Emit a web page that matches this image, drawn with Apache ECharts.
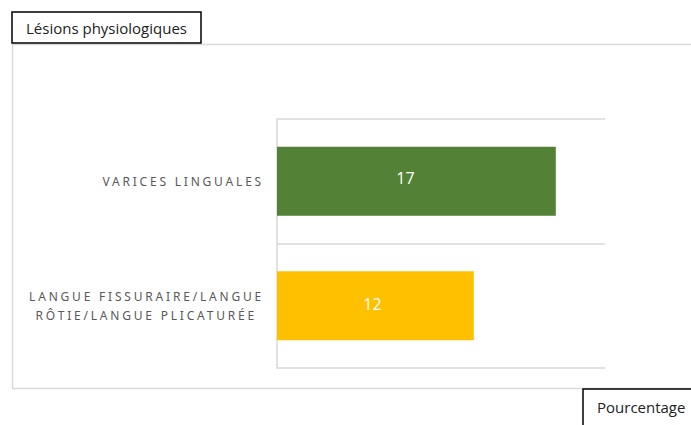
<!DOCTYPE html>
<html>
<head>
<meta charset="utf-8">
<script src="https://cdn.jsdelivr.net/npm/echarts@6/dist/echarts.min.js"></script>
<style>
  html, body { margin: 0; padding: 0; background: #fff; }
  #chart { width: 691px; height: 425px; }
  /* spaced capitals for the category labels */
  #chart svg text[style*="Noto Sans"] { letter-spacing: 2.8px; }
</style>
</head>
<body>
<div id="chart"></div>
<script>
// Lésions physiologiques (%)
const categories = ['VARICES LINGUALES', 'LANGUE FISSURAIRE/LANGUE\nRÔTIE/LANGUE PLICATURÉE'];
const values = [17, 12];
const barColors = ['#538135', '#FFC000'];
const chartTitle = 'Lésions physiologiques';
const axisTitle = 'Pourcentage';

const chart = echarts.init(document.getElementById('chart'), null, { renderer: 'svg' });

const lineGrey = '#d9d9d9';
const boxFont = "'Open Sans', sans-serif";
const labelNudge = [[-11, -3], [-3, -2]];

chart.setOption({
  animation: false,
  backgroundColor: '#fff',
  graphic: [
    {
      type: 'rect',
      z: 0,
      shape: { x: 12.5, y: 44.5, width: 700, height: 344 },
      style: { fill: 'none', stroke: lineGrey, lineWidth: 1.5 }
    }
  ],
  title: [
    {
      text: chartTitle,
      left: 12,
      top: 12,
      padding: [8, 14, 8, 14],
      borderColor: '#000',
      borderWidth: 1.5,
      backgroundColor: '#fff',
      textStyle: { fontFamily: boxFont, fontSize: 15, fontWeight: 'normal', color: '#222' }
    },
    {
      text: axisTitle,
      left: 583,
      top: 389,
      padding: [10, 14, 14, 14],
      borderColor: '#000',
      borderWidth: 1.5,
      backgroundColor: '#fff',
      textStyle: { fontFamily: boxFont, fontSize: 15, fontWeight: 'normal', color: '#222' }
    }
  ],
  grid: { left: 277, right: 86, top: 119, bottom: 57, containLabel: false },
  xAxis: {
    type: 'value',
    min: 0,
    max: 20,
    axisLine: { show: false },
    axisTick: { show: false },
    axisLabel: { show: false },
    splitLine: { show: false }
  },
  yAxis: {
    type: 'category',
    inverse: true,
    data: categories,
    axisLine: { show: true, lineStyle: { color: lineGrey, width: 1.5 } },
    axisTick: { show: false },
    splitLine: { show: true, lineStyle: { color: lineGrey, width: 1.5 } },
    axisLabel: {
      margin: 13,
      formatter: function (v) {
        const lines = v.split('\n');
        // second line of a wrapped label sits centred under the first
        return lines.map(function (s, i) { return (i === 0 ? '{c|' : '{d|') + s + '}'; }).join('\n');
      },
      rich: {
        c: {
          fontFamily: "'Noto Sans', sans-serif",
          fontSize: 12,
          color: '#595959',
          lineHeight: 19
        },
        d: {
          fontFamily: "'Noto Sans', sans-serif",
          fontSize: 12,
          color: '#595959',
          lineHeight: 19,
          padding: [0, 7, 0, 0]
        }
      }
    }
  },
  series: [
    {
      type: 'bar',
      barWidth: 69,
      data: values.map(function (v, i) {
        return { value: v, itemStyle: { color: barColors[i] }, label: { offset: labelNudge[i] } };
      }),
      label: {
        show: true,
        position: 'inside',
        color: '#fff',
        fontFamily: boxFont,
        fontSize: 16
      }
    }
  ]
});
</script>
</body>
</html>
